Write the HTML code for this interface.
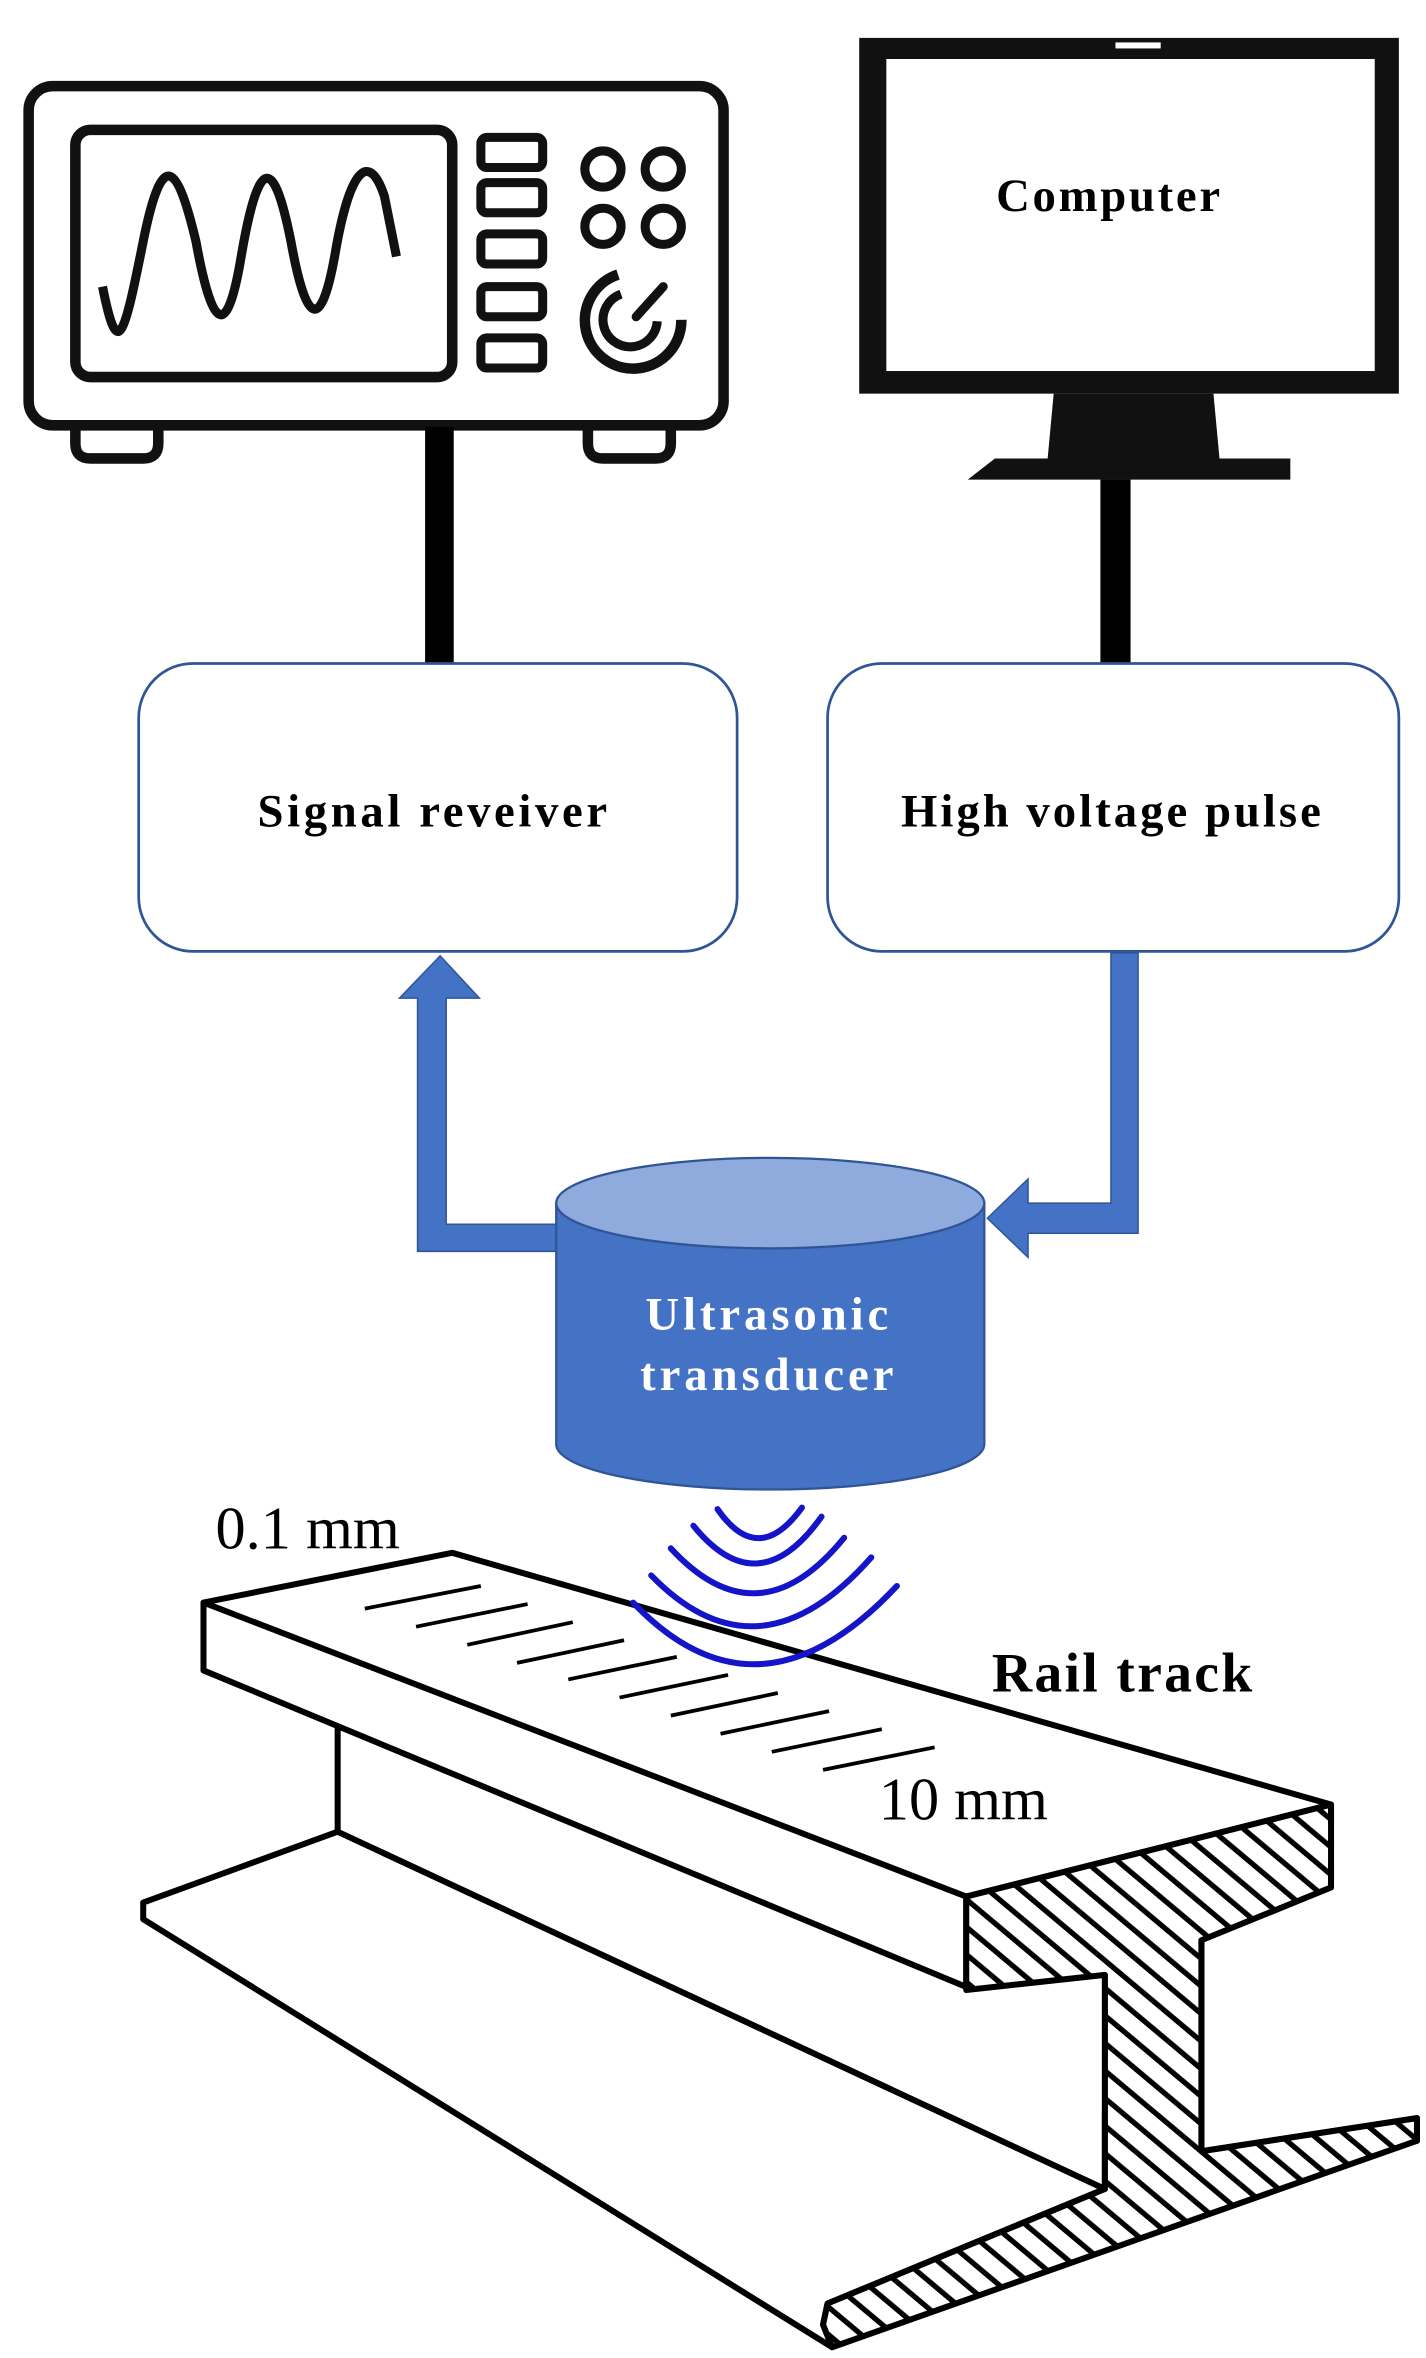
<!DOCTYPE html>
<html><head><meta charset="utf-8"><style>html,body{margin:0;padding:0;background:#fff}svg{display:block}</style></head>
<body>
<svg width="1426" height="2358" viewBox="0 0 946 1564" xmlns="http://www.w3.org/2000/svg">
<defs>
<pattern id="h" patternUnits="userSpaceOnUse" width="14" height="14" patternTransform="rotate(40)">
<rect width="14" height="14" fill="#fff"/><line x1="0" y1="7" x2="14" y2="7" stroke="#000" stroke-width="3.5"/>
</pattern>
</defs>
<!-- Oscilloscope -->
<g fill="none" stroke="#111" stroke-width="7" stroke-linejoin="round">
<rect x="19" y="57" width="461" height="225" rx="16"/>
<rect x="50" y="86" width="250" height="164" rx="10"/>
<path d="M68,190 C78,240 82,225 95,160 C108,95 118,110 130,160 C140,215 150,230 160,170 C172,100 182,105 193,160 C202,210 212,225 222,170 C232,110 245,100 255,130 L263,170" stroke-width="6"/>
<path d="M50,282 v12 q0,10 10,10 h35 q10,0 10,-10 v-12"/>
<path d="M390,282 v12 q0,10 10,10 h35 q10,0 10,-10 v-12"/>
<rect x="319" y="91" width="41" height="20" rx="4" stroke-width="6"/>
<rect x="319" y="121" width="41" height="20" rx="4" stroke-width="6"/>
<rect x="319" y="155" width="41" height="20" rx="4" stroke-width="6"/>
<rect x="319" y="190" width="41" height="20" rx="4" stroke-width="6"/>
<rect x="319" y="224" width="41" height="20" rx="4" stroke-width="6"/>
<circle cx="400" cy="112" r="12" stroke-width="6"/>
<circle cx="440" cy="112" r="12" stroke-width="6"/>
<circle cx="400" cy="150" r="12" stroke-width="6"/>
<circle cx="440" cy="150" r="12" stroke-width="6"/>
<path d="M410,182 A32,32 0 1 0 452,212" stroke-width="7"/>
<path d="M412,195 A18,18 0 1 0 436,213" stroke-width="6"/>
<line x1="422" y1="210" x2="440" y2="190" stroke-width="6" stroke-linecap="round"/>
</g>
<rect x="282" y="283" width="19" height="158" fill="#000"/>
<!-- Monitor -->
<rect x="570" y="25" width="358" height="236" fill="#111"/>
<rect x="588" y="39" width="324" height="207" fill="#fff"/>
<rect x="740" y="28" width="30" height="4" fill="#fff"/>
<polygon points="699,261 805,261 809,304 856,304 856,318 642,318 660,304 695,304" fill="#111"/>
<rect x="730" y="318" width="20" height="123" fill="#000"/>
<text x="736" y="140" font-family="Liberation Serif, serif" font-weight="bold" font-size="31" letter-spacing="1.8" text-anchor="middle">Computer</text>
<!-- Boxes -->
<rect x="92" y="440" width="397" height="191" rx="36" fill="#fff" stroke="#2f5597" stroke-width="1.8"/>
<rect x="549" y="440" width="379" height="191" rx="36" fill="#fff" stroke="#2f5597" stroke-width="1.8"/>
<text x="288" y="548" font-family="Liberation Serif, serif" font-weight="bold" font-size="31" letter-spacing="2.4" text-anchor="middle">Signal reveiver</text>
<text x="738" y="548" font-family="Liberation Serif, serif" font-weight="bold" font-size="31" letter-spacing="2" text-anchor="middle">High voltage pulse</text>
<!-- Arrows -->
<path d="M292,634 L318,662 L296,662 L296,812 L370,812 L370,830 L277,830 L277,662 L265,662 Z" fill="#4472c4" stroke="#2f5597" stroke-width="1"/>
<path d="M737,632 L755,632 L755,818 L682,818 L682,834 L655,808 L682,782 L682,798 L737,798 Z" fill="#4472c4" stroke="#2f5597" stroke-width="1"/>
<!-- Cylinder -->
<path d="M369,798 L369,958 A142,30 0 0 0 653,958 L653,798 Z" fill="#4472c4" stroke="#2f5597" stroke-width="1.5"/>
<ellipse cx="511" cy="798" rx="142" ry="30" fill="#8faadc" stroke="#2f5597" stroke-width="1.5"/>
<text x="510" y="882" font-family="Liberation Serif, serif" font-weight="bold" font-size="31" letter-spacing="2.6" fill="#fff" text-anchor="middle">Ultrasonic</text>
<text x="510" y="922" font-family="Liberation Serif, serif" font-weight="bold" font-size="31" letter-spacing="2.6" fill="#fff" text-anchor="middle">transducer</text>
<!-- Rail -->
<g stroke="#000" stroke-width="4" stroke-linejoin="round" fill="#fff">
<polygon points="95,1262 224,1215 733,1452 549,1528 546,1542 552,1557 95,1273"/>
<polygon points="224,1145 224,1215 733,1452 733,1310"/>
<polygon points="135,1063 300,1030 883,1197 641,1258 641,1318 135,1108"/>
<line x1="135" y1="1063" x2="641" y2="1258"/>
<polygon points="797,1287 797,1427 940,1405 940,1420 733,1452 733,1400" fill="#fff"/>
<polygon points="641,1258 883,1197 883,1252 797,1287 797,1427 940,1405 940,1420 552,1557 546,1542 549,1528 733,1452 733,1310 641,1320" fill="url(#h)"/>
</g>
<!-- scale dashes -->
<g stroke="#000" stroke-width="2.5">
<line x1="242" y1="1067" x2="319" y2="1052"/>
<line x1="276" y1="1079" x2="350" y2="1064"/>
<line x1="310" y1="1091" x2="380" y2="1076"/>
<line x1="343" y1="1103" x2="414" y2="1088"/>
<line x1="377" y1="1114" x2="449" y2="1099"/>
<line x1="411" y1="1126" x2="483" y2="1111"/>
<line x1="445" y1="1138" x2="516" y2="1123"/>
<line x1="478" y1="1150" x2="550" y2="1135"/>
<line x1="512" y1="1162" x2="585" y2="1147"/>
<line x1="546" y1="1174" x2="620" y2="1159"/>
</g>
<!-- waves -->
<g fill="none" stroke="#1414c8" stroke-width="4" stroke-linecap="round">
<path d="M476,1001 Q503,1040 532,1000"/>
<path d="M460,1012 Q503,1065 545,1006"/>
<path d="M445,1027 Q503,1090 560,1020"/>
<path d="M432,1045 Q503,1118 578,1033"/>
<path d="M420,1063 Q503,1150 595,1052"/>
</g>
<text x="143" y="1027" font-family="Liberation Serif, serif" font-size="40">0.1 mm</text>
<text x="583" y="1207" font-family="Liberation Serif, serif" font-size="40">10 mm</text>
<text x="658" y="1122" font-family="Liberation Serif, serif" font-weight="bold" font-size="37" letter-spacing="1.5">Rail track</text>
</svg>
</body></html>
